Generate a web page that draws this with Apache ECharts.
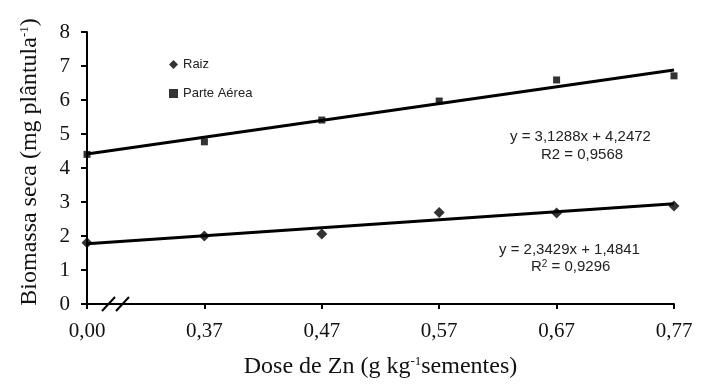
<!DOCTYPE html>
<html>
<head>
<meta charset="utf-8">
<script src="https://cdn.jsdelivr.net/npm/echarts@6/dist/echarts.min.js"></script>
<style>
  html, body { margin: 0; padding: 0; background: #fff; }
  #chart { width: 703px; height: 385px; }
</style>
</head>
<body>
<div id="chart"></div>
<script>
var categories = ['0,00', '0,37', '0,47', '0,57', '0,67', '0,77'];
var raiz = [1.8, 2.0, 2.06, 2.69, 2.68, 2.88];
var parteAerea = [4.4, 4.77, 5.41, 5.97, 6.59, 6.71];
// ends of the fitted lines
var trendRaiz = [1.77, 2.95];
var trendParte = [4.41, 6.88];

var dom = document.getElementById('chart');
var myChart = echarts.init(dom);

var serif = 'Liberation Serif';
var sans = 'Liberation Sans';

var option = {
    animation: false,
    grid: { left: 87, right: 29, top: 32, bottom: 81 },
    legend: {
        data: [
            { name: 'Raiz', icon: 'diamond' },
            { name: 'Parte Aérea', icon: 'rect' }
        ],
        orient: 'vertical',
        left: 164,
        top: 53,
        itemWidth: 9,
        itemHeight: 9,
        itemGap: 16,
        textStyle: { fontFamily: sans, fontSize: 13, color: '#222' }
    },
    xAxis: {
        type: 'category',
        data: categories,
        boundaryGap: false,
        name: 'Dose de Zn (g kg{sup|-1}sementes)',
        nameLocation: 'middle',
        nameGap: 51,
        nameTextStyle: {
            fontFamily: serif, fontSize: 24, color: '#111',
            rich: { sup: { fontFamily: serif, fontSize: 13, verticalAlign: 'top', color: '#111' } }
        },
        axisLine: { lineStyle: { color: '#000', width: 2 } },
        axisTick: { show: true, length: 5, inside: false, lineStyle: { color: '#000', width: 2 } },
        axisLabel: { margin: 17, fontFamily: serif, fontSize: 21, color: '#111' },
        splitLine: { show: false }
    },
    yAxis: {
        type: 'value',
        min: 0,
        max: 8,
        interval: 1,
        name: 'Biomassa seca (mg plântula{sup|-1})',
        nameLocation: 'middle',
        nameRotate: 90,
        nameGap: 45,
        nameTextStyle: {
            fontFamily: serif, fontSize: 24, color: '#111',
            padding: [0, 0, 0, 12],
            rich: { sup: { fontFamily: serif, fontSize: 13, verticalAlign: 'top', color: '#111' } }
        },
        axisLine: { show: true, lineStyle: { color: '#000', width: 2 } },
        axisTick: { show: true, length: 6, lineStyle: { color: '#000', width: 2 } },
        axisLabel: { margin: 17, fontFamily: serif, fontSize: 21, color: '#111' },
        splitLine: { show: false }
    },
    series: [
        {
            name: 'trend Parte',
            type: 'line',
            data: [[categories[0], trendParte[0]], [categories[categories.length - 1], trendParte[1]]],
            symbol: 'none',
            lineStyle: { color: '#000', width: 3 },
            z: 2
        },
        {
            name: 'trend Raiz',
            type: 'line',
            data: [[categories[0], trendRaiz[0]], [categories[categories.length - 1], trendRaiz[1]]],
            symbol: 'none',
            lineStyle: { color: '#000', width: 3 },
            z: 2
        },
        {
            name: 'Raiz',
            type: 'scatter',
            data: raiz,
            symbol: 'diamond',
            symbolSize: 11,
            itemStyle: { color: '#000' },
            z: 3
        },
        {
            name: 'Parte Aérea',
            type: 'scatter',
            data: parteAerea,
            symbol: 'rect',
            symbolSize: 7,
            itemStyle: { color: '#000' },
            z: 3
        }
    ],
    graphic: [
        {
            type: 'text',
            left: 510,
            top: 129,
            style: {
                text: 'y = 3,1288x + 4,2472',
                font: '15px "Liberation Sans"',
                fill: '#222'
            }
        },
        {
            type: 'text',
            left: 541,
            top: 147,
            style: {
                text: 'R2 = 0,9568',
                font: '15px "Liberation Sans"',
                fill: '#222'
            }
        },
        {
            type: 'text',
            left: 499,
            top: 242,
            style: {
                text: 'y = 2,3429x + 1,4841',
                font: '15px "Liberation Sans"',
                fill: '#222'
            }
        },
        {
            type: 'text',
            left: 531,
            top: 259,
            style: {
                text: 'R{s|2} = 0,9296',
                font: '15px "Liberation Sans"',
                fill: '#222',
                rich: { s: { fontSize: 10, verticalAlign: 'top', fontFamily: sans, fill: '#222' } }
            }
        },
        // break mark on the x axis
        {
            type: 'line',
            shape: { x1: 102, y1: 311, x2: 115, y2: 297 },
            style: { stroke: '#000', lineWidth: 2 }
        },
        {
            type: 'line',
            shape: { x1: 116, y1: 311, x2: 129, y2: 297 },
            style: { stroke: '#000', lineWidth: 2 }
        }
    ]
};

if (option && typeof option === "object") {
    myChart.setOption(option, true);
}
</script>
</body>
</html>
